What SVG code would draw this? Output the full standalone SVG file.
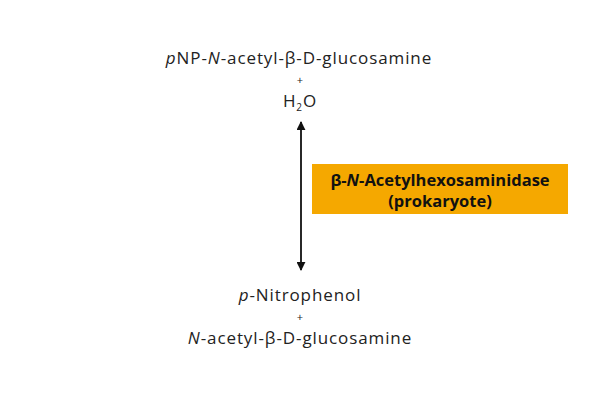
<svg xmlns="http://www.w3.org/2000/svg" width="600" height="400" viewBox="0 0 600 400">
<style>
.t{font-family:"Open Sans",sans-serif;font-size:17px;letter-spacing:0.9px;fill:#222;text-anchor:middle}
.p{font-family:"Open Sans",sans-serif;font-size:11px;fill:#222;text-anchor:middle}
.b{font-family:"Open Sans",sans-serif;font-size:16.5px;font-weight:bold;fill:#111;text-anchor:middle}
</style>
<defs><marker id="a" viewBox="0 0 10 10" refX="9" refY="5" markerWidth="5" markerHeight="5" orient="auto-start-reverse"><path d="M0,0L10,5L0,10z" fill="#111"/></marker></defs>
<rect width="600" height="400" fill="#fff"/>
<g id="substrate">
<text class="t" x="299" y="64"><tspan font-style="italic">p</tspan>NP-<tspan font-style="italic">N</tspan>-acetyl-β-D-glucosamine</text>
<text class="p" x="300" y="84">+</text>
<text class="t" x="300" y="107">H<tspan font-size="10" dy="4">2</tspan><tspan dy="-4">O</tspan></text>
</g>
<g id="enzyme">
<rect x="312" y="164" width="256" height="50" fill="#f5a800"/>
<text class="b" x="440" y="186">β-<tspan font-style="italic">N</tspan>-Acetylhexosaminidase</text>
<text class="b" x="440" y="207">(prokaryote)</text>
</g>
<g id="products">
<text class="t" x="300" y="301"><tspan font-style="italic">p</tspan>-Nitrophenol</text>
<text class="p" x="300" y="321">+</text>
<text class="t" x="300" y="344"><tspan font-style="italic">N</tspan>-acetyl-β-D-glucosamine</text>
</g>
<g id="connectors">
<line x1="301" y1="122" x2="301" y2="270" stroke="#111" stroke-width="1.8" marker-start="url(#a)" marker-end="url(#a)"/>
</g>
</svg>
